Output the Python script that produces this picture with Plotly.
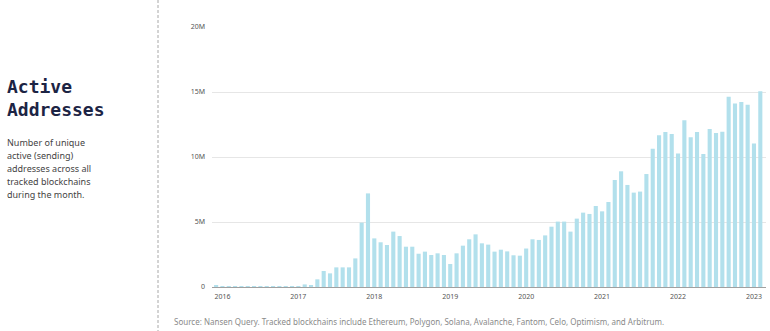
import plotly.graph_objects as go

# ---- data (millions of active addresses, monthly, Dec 2015 .. Feb 2023) ----
start_year, start_month = 2015, 12
values_m = [
    0.08, 0.05, 0.05, 0.05, 0.05, 0.05, 0.05, 0.05, 0.05, 0.05, 0.05, 0.05, 0.05, 0.06,
    0.20, 0.13, 0.59, 1.23, 1.05, 1.51, 1.51, 1.51, 2.20, 4.95, 7.20,
    3.74, 3.44, 3.23, 4.26, 3.92, 3.10, 3.10, 2.56, 2.72, 2.46, 2.59, 2.46,
    1.77, 2.59, 3.18, 3.67, 4.05, 3.36, 3.26, 2.72, 2.87, 2.74, 2.44, 2.41,
    2.96, 3.67, 3.62, 3.97, 4.64, 5.03, 5.03, 4.26, 5.26, 5.72, 5.62, 6.23,
    5.82, 6.54, 8.23, 8.90, 7.85, 7.26, 7.34, 8.69, 10.64, 11.67, 11.93, 11.77,
    10.26, 12.83, 11.52, 11.93, 10.23, 12.16, 11.85, 11.95, 14.63, 14.11, 14.24, 14.01,
    11.03, 15.06,
]
y_tick_vals = [0, 5e6, 10e6, 15e6, 20e6]
y_tick_text = ["0", "5M", "10M", "15M", "20M"]
years = [2016, 2017, 2018, 2019, 2020, 2021, 2022, 2023]

title_text = "Active<br>Addresses"
desc_lines = [
    "Number of unique",
    "active (sending)",
    "addresses across all",
    "tracked blockchains",
    "during the month.",
]
source_text = ("Source: Nansen Query. Tracked blockchains include Ethereum, Polygon, "
               "Solana, Avalanche, Fantom, Celo, Optimism, and Arbitrum.")

# ---- derived ----
months = []
y, m = start_year, start_month
for _ in values_m:
    months.append((y, m))
    m += 1
    if m > 12:
        m = 1
        y += 1
idx = list(range(len(values_m)))
values = [v * 1e6 for v in values_m]
labels = [f"{yy}-{mm:02d}" for yy, mm in months]
x_tick_vals = [i for i, (yy, mm) in enumerate(months) if mm == 1 and yy in years]
x_tick_text = [str(months[i][0]) for i in x_tick_vals]

W, H = 770, 331
L, R, T, B = 212, 766, 27, 287


def px(x):
    return (x - L) / (R - L)


def py(yv):
    return (B - yv) / (B - T)


fig = go.Figure()
fig.add_trace(go.Bar(
    x=idx, y=values, customdata=labels,
    marker=dict(color="#b2e0ec", line=dict(width=0)),
    hovertemplate="%{customdata}: %{y:.3s}<extra></extra>",
))

annotations = [
    dict(text=title_text, x=px(5), y=py(74), xref="paper", yref="paper",
         xanchor="left", yanchor="top", showarrow=False, align="left",
         font=dict(family="DejaVu Sans Mono", size=18, color="#1c2444", weight="bold")),
    dict(text=source_text, x=px(172), y=py(321), xref="paper", yref="paper",
         xanchor="left", yanchor="middle", showarrow=False,
         font=dict(family="Noto Sans", size=8, color="#8a8a8a")),
]
for i, line in enumerate(desc_lines):
    annotations.append(dict(
        text=line, x=px(5), y=py(142 + 13.1 * i), xref="paper", yref="paper",
        xanchor="left", yanchor="middle", showarrow=False,
        font=dict(family="Noto Sans", size=9, color="#444444")))

fig.update_layout(
    width=W, height=H,
    margin=dict(l=L, r=W - R, t=T, b=H - B, pad=0),
    paper_bgcolor="white", plot_bgcolor="white",
    showlegend=False, bargap=0.35,
    font=dict(family="Noto Sans", color="#555555"),
    annotations=annotations,
    shapes=[dict(type="line", xref="paper", yref="paper",
                 x0=px(158), x1=px(158), y0=py(0), y1=py(331),
                 line=dict(color="#a8a8a8", width=1, dash="3px,2px"))],
)
fig.update_xaxes(
    range=[-0.65, len(values_m) - 0.1],
    tickvals=x_tick_vals, ticktext=x_tick_text,
    tickfont=dict(size=7, color="#555555"),
    showgrid=False, zeroline=False, showline=False, ticks="",
    ticklabelstandoff=4, fixedrange=True,
)
fig.update_yaxes(
    range=[0, 20e6],
    tickvals=y_tick_vals, ticktext=y_tick_text,
    tickfont=dict(size=7, color="#555555"),
    showgrid=True, gridcolor="#e6e6e6", gridwidth=1,
    zeroline=True, zerolinecolor="#a0a0a0", zerolinewidth=1,
    showline=False, ticks="", ticklabelstandoff=6, fixedrange=True,
)

fig.write_html("out.html")
